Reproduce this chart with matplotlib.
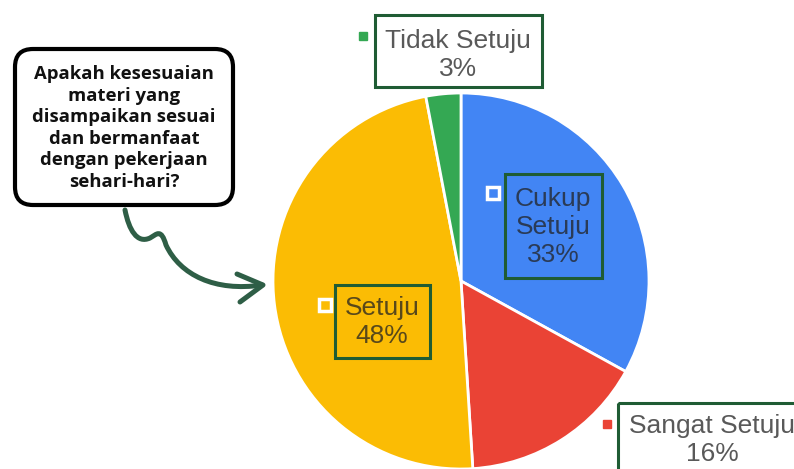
import matplotlib.pyplot as plt
from matplotlib.patches import Rectangle, FancyBboxPatch, PathPatch
from matplotlib.path import Path

categories = ['Cukup Setuju', 'Sangat Setuju', 'Setuju', 'Tidak Setuju']
values = [33, 16, 48, 3]
colors = ['#4285F4', '#EA4335', '#FBBC04', '#34A853']
question = 'Apakah kesesuaian\nmateri yang\ndisampaikan sesuai\ndan bermanfaat\ndengan pekerjaan\nsehari-hari?'

W, H = 794, 469
fig = plt.figure(figsize=(W / 100, H / 100), dpi=100)
ax = fig.add_axes([0, 0, 1, 1])
ax.set_xlim(0, W)
ax.set_ylim(H, 0)  # image-like coordinates
ax.set_aspect('equal')
ax.axis('off')

# pie (y inverted -> startangle -90 is top, counterclock draws clockwise)
ax.pie(values, colors=colors, center=(461, 281), radius=188,
       startangle=-90, counterclock=True,
       wedgeprops=dict(edgecolor='white', linewidth=2))
ax.set_xlim(0, W)
ax.set_ylim(H, 0)

box_green = '#1f5c34'
txt_kw = dict(family='Liberation Sans', fontsize=19, color='#222222', alpha=0.75,
              ha='center', va='center', linespacing=1.22)

# label boxes: (x0, y0, x1, y1), text centre, marker position
labels = {
    'Cukup Setuju': ((505, 174, 602, 278), (553, 227), (493, 193), 'Cukup\nSetuju\n{}%'),
    'Sangat Setuju': ((618, 403, 810, 480), (712, 440), (607, 424), 'Sangat Setuju\n{}%'),
    'Setuju': ((335, 285, 430, 358), (382, 322), (325, 305), 'Setuju\n{}%'),
    'Tidak Setuju': ((375, 15, 542, 87), (458, 55), (363, 36), 'Tidak Setuju\n{}%'),
}
for cat, val, col in zip(categories, values, colors):
    (x0, y0, x1, y1), (tx, ty), (mx, my), fmt = labels[cat]
    ax.add_patch(Rectangle((x0, y0), x1 - x0, y1 - y0, fill=False,
                           edgecolor=box_green, linewidth=2.2, zorder=4, clip_on=True))
    ax.text(tx, ty, fmt.format(val), zorder=5, **txt_kw)
    inside = cat in ('Cukup Setuju', 'Setuju')
    if inside:
        ax.plot(mx, my, 's', ms=8, mfc=col, mec='white', mew=2.5, zorder=5)
    else:
        ax.plot(mx, my, 's', ms=5.5, mfc=col, mec=col, zorder=5)

# speech bubble
ax.add_patch(FancyBboxPatch((15, 49), 218, 156, boxstyle='round,pad=0,rounding_size=18',
                            facecolor='white', edgecolor='black', linewidth=3, zorder=3))
ax.text(124, 128, question, family='Open Sans', fontweight='bold', fontsize=13.3,
        color='#111111', ha='center', va='center', linespacing=1.26, zorder=4)

# curvy arrow
arrow_col = '#2e5e46'
verts = [(125, 210), (129, 230), (137, 244), (150, 238),
         (157, 234), (161, 228), (166, 245),
         (180, 275), (215, 292), (262, 285)]
codes = [Path.MOVETO, Path.CURVE4, Path.CURVE4, Path.CURVE4,
         Path.CURVE4, Path.CURVE4, Path.CURVE4,
         Path.CURVE4, Path.CURVE4, Path.CURVE4]
ax.add_patch(PathPatch(Path(verts, codes), fill=False, edgecolor=arrow_col,
                       linewidth=3.6, capstyle='round', joinstyle='round', zorder=3))
ax.plot([237, 263, 240], [274, 285, 302], color=arrow_col, linewidth=3.6,
        solid_capstyle='round', solid_joinstyle='round', zorder=3)

fig.savefig('out.png', dpi=100)
